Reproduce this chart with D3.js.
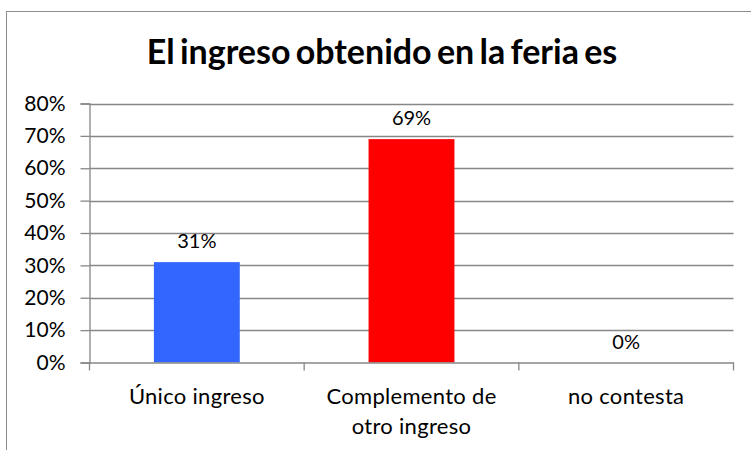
<!DOCTYPE html>
<html><head><meta charset="utf-8">
<script src="https://cdn.jsdelivr.net/npm/d3@7"></script>
<style>body{margin:0;background:#fff}svg{display:block}</style>
</head><body>
<script>
const categories = ["Único ingreso", "Complemento de otro ingreso", "no contesta"];
const values = [0.31, 0.69, 0.0];
const colors = ["#3366FF", "#FF0000", "#3366FF"];
const yTicks = [0, 0.1, 0.2, 0.3, 0.4, 0.5, 0.6, 0.7, 0.8];
const title = "El ingreso obtenido en la feria es";

const W = 751, H = 450;
const svg = d3.select("body").append("svg").attr("width", W).attr("height", H);
const font = "Lato, 'Open Sans', sans-serif";

svg.append("rect").attr("x", 6.5).attr("y", 11.5).attr("width", 750).attr("height", 450)
  .attr("fill", "none").attr("stroke", "#8c8c8c").attr("stroke-width", 1);

svg.append("text").attr("x", 382).attr("y", 64).attr("text-anchor", "middle")
  .attr("font-family", font).attr("font-weight", "bold").attr("font-size", 34)
  .attr("word-spacing", -3).text(title);

const x0 = 89.5, x1 = 733.5, yTop = 103.5, yBot = 362.5;
const x = d3.scaleBand().domain(categories).range([x0, x1]).paddingInner(0.6).paddingOuter(0.3);
const xb = d3.scaleBand().domain(categories).range([x0, x1]);
const y = d3.scaleLinear().domain([0, 0.8]).range([yBot, yTop]);

// gridlines
svg.append("g").selectAll("line").data(yTicks.filter(d => d > 0)).join("line")
  .attr("x1", x0).attr("x2", x1).attr("y1", d => Math.round(y(d)) + 0.5).attr("y2", d => Math.round(y(d)) + 0.5)
  .attr("stroke", "#878787").attr("stroke-width", 1.3);

// y axis
const ya = svg.append("g").attr("transform", `translate(${x0},0)`)
  .call(d3.axisLeft(y).tickValues(yTicks).tickFormat(d3.format(".0%")).tickSize(9).tickPadding(15));
ya.select(".domain").attr("stroke", "#878787").attr("stroke-width", 1.3);
ya.selectAll(".tick line").attr("stroke", "#878787").attr("stroke-width", 1.3);
ya.selectAll(".tick text").attr("font-family", font).attr("font-size", 21).attr("fill", "#000");

// bars
svg.append("g").selectAll("rect").data(categories).join("rect")
  .attr("x", d => x(d)).attr("width", x.bandwidth())
  .attr("y", (d, i) => y(values[i])).attr("height", (d, i) => yBot - y(values[i]))
  .attr("fill", (d, i) => colors[i]);

// x axis
const xa = svg.append("g").attr("transform", `translate(0,${yBot})`)
  .call(d3.axisBottom(xb).tickSize(0).tickFormat(""));
xa.select(".domain").attr("stroke", "#878787").attr("stroke-width", 1.3);
const bounds = [x0, ...categories.map(c => xb(c) + xb.bandwidth())];
svg.append("g").selectAll("line").data(bounds).join("line")
  .attr("x1", d => d).attr("x2", d => d).attr("y1", yBot).attr("y2", yBot + 8)
  .attr("stroke", "#878787").attr("stroke-width", 1.3);

const labelLines = {"Único ingreso": ["Único ingreso"], "Complemento de otro ingreso": ["Complemento de", "otro ingreso"], "no contesta": ["no contesta"]};
svg.append("g").selectAll("text").data(categories).join("text")
  .attr("x", d => xb(d) + xb.bandwidth() / 2).attr("y", 404)
  .attr("text-anchor", "middle").attr("font-family", font).attr("font-size", 22)
  .attr("letter-spacing", 0.3)
  .each(function(d) {
    d3.select(this).selectAll("tspan").data(labelLines[d]).join("tspan")
      .attr("x", xb(d) + xb.bandwidth() / 2).attr("dy", (t, i) => i ? 30 : 0).text(t => t);
  });

// data labels
svg.append("g").selectAll("text").data(categories).join("text")
  .attr("x", d => xb(d) + xb.bandwidth() / 2).attr("y", (d, i) => y(values[i]) - 14)
  .attr("text-anchor", "middle").attr("font-family", font).attr("font-size", 20)
  .text((d, i) => d3.format(".0%")(values[i]));
</script>
</body></html>
